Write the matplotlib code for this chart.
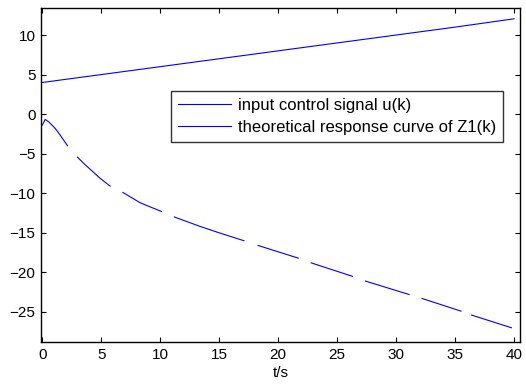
import numpy as np
import matplotlib
matplotlib.use("Agg")
import matplotlib.pyplot as plt

plt.rcParams['font.family'] = ['Liberation Sans', 'DejaVu Sans']
plt.rcParams['font.size'] = 11

# input control signal u(k)
t_u = [0, 5, 10, 15, 20, 25, 30, 35, 40]
u_k = [4.0, 5.0, 6.0, 7.0, 8.0, 9.0, 10.0, 11.0, 12.05]

# theoretical response of Z1(k); NaN marks missing samples
t_z = [0.0, 0.25, 0.55, 1.1, 1.5, 2.15, np.nan,
       3.0, 3.5, 4.9, 5.76, np.nan,
       6.84, 8.3, 10.1, np.nan,
       11.2, 13.4, 15.0, 17.1, np.nan,
       18.3, 21.7, np.nan,
       22.8, 26.3, np.nan,
       27.4, 31.1, np.nan,
       32.2, 35.5, np.nan,
       36.4, 39.77]
z_k = [-1.4, -0.67, -0.97, -1.8, -2.6, -4.0, np.nan,
       -5.45, -6.2, -8.1, -9.1, np.nan,
       -9.9, -11.2, -12.3, np.nan,
       -13.0, -14.2, -15.0, -16.0, np.nan,
       -16.6, -18.2, np.nan,
       -18.8, -20.5, np.nan,
       -21.1, -22.8, np.nan,
       -23.3, -24.9, np.nan,
       -25.4, -27.0]

labels = ['input control signal u(k)', 'theoretical response curve of Z1(k)']
x_ticks = [0, 5, 10, 15, 20, 25, 30, 35, 40]
y_ticks = [-25, -20, -15, -10, -5, 0, 5, 10]

fig = plt.figure(figsize=(5.26, 3.87), dpi=100)
ax = fig.add_axes([0.078, 0.1163, 0.9106, 0.8627])

ax.plot(t_u, u_k, color='#0000ff', lw=0.8, label=labels[0])
ax.plot(t_z, z_k, color='#0000ff', lw=0.8, label=labels[1])

ax.set_xlim(-0.1, 40.5)
ax.set_ylim(-28.8, 13.4)
ax.set_xticks(x_ticks)
ax.set_yticks(y_ticks)
ax.tick_params(direction='in', length=3.5, width=0.8, top=True, right=True,
               labelsize=11, colors='black', pad=4)
for s in ax.spines.values():
    s.set_linewidth(1.0)
ax.set_xlabel('t/s', fontsize=11, labelpad=3)

leg = ax.legend(loc='upper left', bbox_to_anchor=(0.271, 0.751), borderaxespad=0,
                fancybox=False, frameon=True, edgecolor='black', fontsize=12,
                handlelength=3.2, handletextpad=0.4, labelspacing=0.38,
                borderpad=0.42)
leg.get_frame().set_linewidth(1.0)

fig.savefig('out.png', dpi=100)
